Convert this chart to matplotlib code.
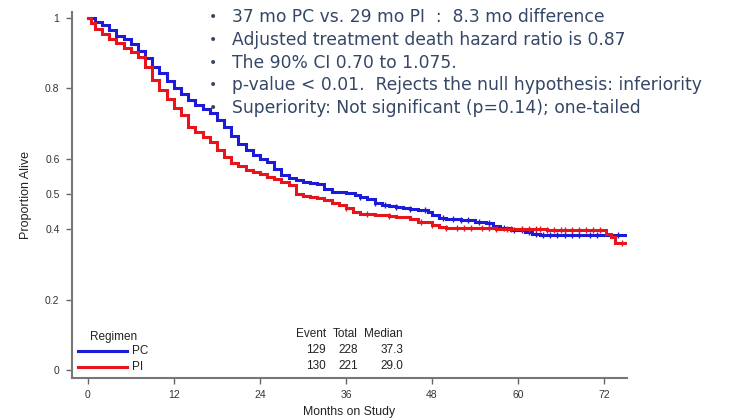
import numpy as np
import matplotlib
matplotlib.use("Agg")
import matplotlib.pyplot as plt

# Kaplan-Meier curves (months, proportion alive)
pc_t = [0, 1, 2, 3, 4, 5, 6, 7, 8, 9, 10, 11, 12, 13, 14, 15, 16, 17, 18, 19,
        20, 21, 22, 23, 24, 25, 26, 27, 28, 29, 30, 31, 32, 33, 34, 36, 37.3,
        38, 39, 40, 41, 42, 43, 44, 45, 46, 47.5, 48, 49, 50, 52, 54, 55.5,
        56.5, 57.5, 59, 61, 62, 63]
pc_s = [1.0, 0.99, 0.98, 0.965, 0.95, 0.94, 0.927, 0.905, 0.885, 0.862, 0.843,
        0.822, 0.80, 0.785, 0.768, 0.752, 0.74, 0.73, 0.71, 0.69, 0.665, 0.642,
        0.625, 0.61, 0.598, 0.59, 0.57, 0.555, 0.545, 0.54, 0.534, 0.53, 0.527,
        0.515, 0.506, 0.503, 0.497, 0.49, 0.485, 0.475, 0.47, 0.465, 0.462,
        0.46, 0.457, 0.455, 0.45, 0.44, 0.433, 0.428, 0.425, 0.42, 0.418, 0.41,
        0.403, 0.398, 0.392, 0.386, 0.384]
pc_end = 75.2

pi_t = [0, 0.5, 1, 2, 3, 4, 5, 6, 7, 8, 9, 10, 11, 12, 13, 14, 15, 16, 17, 18,
        19, 20, 21, 22, 23, 24, 25, 26, 27, 28, 29, 30, 31, 32, 33, 34, 35, 36,
        37, 38, 40, 42, 43, 45, 46, 48, 49, 50, 57, 64, 72.3, 72.9, 73.5]
pi_s = [1.0, 0.985, 0.97, 0.955, 0.94, 0.928, 0.915, 0.903, 0.89, 0.86, 0.825,
        0.795, 0.77, 0.745, 0.725, 0.69, 0.675, 0.662, 0.648, 0.625, 0.605,
        0.588, 0.578, 0.568, 0.562, 0.556, 0.548, 0.543, 0.535, 0.525, 0.5,
        0.495, 0.49, 0.488, 0.483, 0.475, 0.469, 0.46, 0.45, 0.442, 0.44, 0.438,
        0.435, 0.43, 0.42, 0.413, 0.406, 0.403, 0.40, 0.398, 0.385, 0.378, 0.36]
pi_end = 75.3

pc_censor = [38, 40, 41.5, 43, 45, 47, 49.5, 51, 52, 53, 54.5, 56, 58, 59.5,
             60.5, 61.5, 62.5, 63.5, 64.5, 65.5, 66.5, 67.5, 68.5, 70, 71, 74]
pi_censor = [36, 39, 42, 46.5, 48, 50, 51.5, 52.5, 53.5, 55, 56, 57, 58.5, 59,
             60.5, 61.5, 62.5, 63, 64, 65, 66, 66.5, 67.5, 68.5, 69.5, 70.5,
             71.5, 74.5]

x_ticks = [0, 12, 24, 36, 48, 60, 72]
y_ticks = [0, 0.2, 0.4, 0.5, 0.6, 0.8, 1]
y_labels = ["0", "0.2", "0.4", "0.5", "0.6", "0.8", "1"]

groups = ["PC", "PI"]
events = [129, 130]
totals = [228, 221]
medians = ["37.3", "29.0"]

bullets = [
    "37 mo PC vs. 29 mo PI  :  8.3 mo difference",
    "Adjusted treatment death hazard ratio is 0.87",
    "The 90% CI 0.70 to 1.075.",
    "p-value < 0.01.  Rejects the null hypothesis: inferiority",
    "Superiority: Not significant (p=0.14); one-tailed",
]

BLUE = "#1c1cd8"
RED = "#e8141c"
SLATE = "#354766"
W, H = 729, 420

fig = plt.figure(figsize=(W / 100, H / 100), dpi=100)
ax = fig.add_axes([72 / W, 42 / H, 555 / W, 366 / H])

def km(ax, t, s, end, cens, color):
    tt = list(t) + [end]
    ss = list(s) + [s[-1]]
    ax.step(tt, ss, where="post", color=color, lw=2.2, solid_joinstyle="miter")
    idx = np.searchsorted(t, cens, side="right") - 1
    ax.plot(cens, np.array(s)[idx], ls="none", marker="|", ms=4.5, mew=1.0,
            color=color)

km(ax, pc_t, pc_s, pc_end, pc_censor, BLUE)
km(ax, pi_t, pi_s, pi_end, pi_censor, RED)

ax.set_xlim(-2.2, 75.2)
ax.set_ylim(-0.023, 1.017)
ax.set_xticks(x_ticks)
ax.set_yticks(y_ticks)
ax.set_yticklabels(y_labels)
for sp in ["top", "right"]:
    ax.spines[sp].set_visible(False)
for sp in ["left", "bottom"]:
    ax.spines[sp].set_color("#777777")
    ax.spines[sp].set_linewidth(1.5)
ax.tick_params(length=4, width=1, color="#666666", labelsize=7.5,
               labelcolor="#333333", pad=5)
for lab in ax.get_xticklabels() + ax.get_yticklabels():
    lab.set_fontfamily("Liberation Sans")

ax.set_ylabel("Proportion Alive", fontsize=9, family="Liberation Sans",
              color="#222222")
ax.yaxis.set_label_coords(-0.072, 0.5)
ax.set_xlabel("Months on Study", fontsize=8.8, family="Liberation Sans",
              color="#222222")
ax.xaxis.set_label_coords(0.5, -0.077)

def ftext(px, py, s, **kw):
    fig.text(px / W, 1 - py / H, s, va="center", **kw)

# legend block
small = dict(fontsize=8.5, family="Liberation Sans", color="#222222")
ftext(114, 337, "Regimen", ha="center", **small)
for i, (g, c) in enumerate(zip(groups, [BLUE, RED])):
    py = 351 + 16 * i
    fig.add_artist(plt.Line2D([78 / W, 127 / W], [1 - py / H, 1 - py / H],
                              color=c, lw=2.2))
    ftext(132, py, g, ha="left", **small)

# event table
ftext(326, 334, "Event", ha="right", **small)
ftext(358, 334, "Total", ha="right", **small)
ftext(403, 334, "Median", ha="right", **small)
for i in range(2):
    py = 350 + 16 * i
    ftext(326, py, str(events[i]), ha="right", **small)
    ftext(358, py, str(totals[i]), ha="right", **small)
    ftext(403, py, medians[i], ha="right", **small)

# bullet notes
for i, b in enumerate(bullets):
    py = 17 + 22.75 * i
    ftext(213, py, "\u2022", ha="center", fontsize=10, color=SLATE,
          family="DejaVu Sans")
    ftext(232, py, b, ha="left", fontsize=12.3, color=SLATE,
          family="DejaVu Sans")

fig.savefig("out.png", dpi=100)
